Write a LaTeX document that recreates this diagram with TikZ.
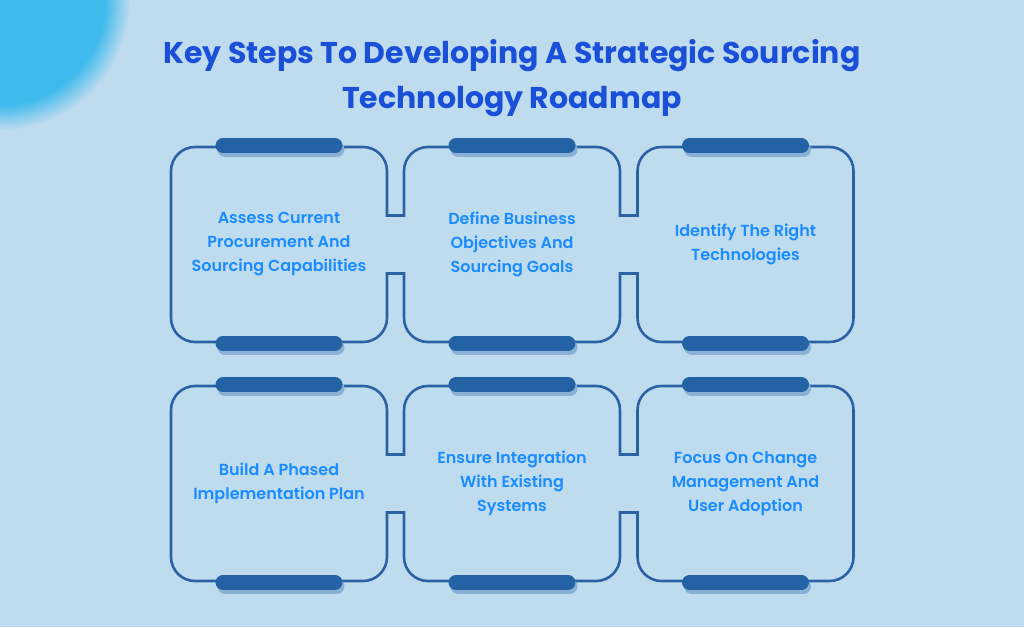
\documentclass[tikz,border=0pt]{standalone}
\usepackage{fontspec}
\setmainfont{Poppins}[BoldFont={* SemiBold}]
\newfontfamily\titlefont{Poppins Bold}
\usetikzlibrary{calc,fadings}
\definecolor{bgblue}{HTML}{BFDCEF}
\definecolor{lineblue}{HTML}{2A63A5}
\definecolor{barblue}{HTML}{2462A6}
\definecolor{textblue}{HTML}{1A8CFF}
\definecolor{titleblue}{HTML}{1A4FD8}
\tikzset{
  stepbox/.style={draw=lineblue, line width=2.6pt, rounded corners=24pt,
    minimum width=216pt, minimum height=195pt, align=center,
    text=textblue, font=\bfseries\fontsize{16}{24}\selectfont},
  tab/.style={line width=15pt, line cap=round, draw=barblue},
  tabshadow/.style={line width=15pt, line cap=round, draw=barblue!35!bgblue},
  link/.style={draw=lineblue, line width=2.6pt}
}
\begin{document}
\begin{tikzpicture}[x=1pt,y=-1pt]
    \useasboundingbox (0,0) rectangle (1024,627);
    \fill[bgblue] (0,0) rectangle (1024,627);
    \begin{scope}
        \clip (0,0) rectangle (1024,627);
        \fill[cyan!70!bgblue, path fading=circle with fuzzy edge 20 percent] (0,0) circle [radius=130];
    \end{scope}

    \node[text=titleblue, font=\titlefont\fontsize{30}{45}\selectfont, align=center] (title) at (512,78)
        {Key Steps To Developing A Strategic Sourcing\\Technology Roadmap};

    \node[stepbox] (b1) at (279,244.5) {Assess Current\\Procurement And\\Sourcing Capabilities};
    \node[stepbox] (b2) at (512,244.5) {Define Business\\Objectives And\\Sourcing Goals};
    \node[stepbox] (b3) at (745.5,244.5) {Identify The Right\\Technologies};
    \node[stepbox] (b4) at (279,483.5) {Build A Phased\\Implementation Plan};
    \node[stepbox] (b5) at (512,483.5) {Ensure Integration\\With Existing\\Systems};
    \node[stepbox] (b6) at (745.5,483.5) {Focus On Change\\Management And\\User Adoption};

    % tabs on top and bottom
    \foreach \b in {b1,b2,b3,b4,b5,b6}{
        \draw[tabshadow] ($(\b.north)+(-54,4)$) -- ($(\b.north)+(58,4)$);
        \draw[tab] ($(\b.north)+(-56,0)$) -- ($(\b.north)+(56,0)$);
        \draw[tabshadow] ($(\b.south)+(-54,4)$) -- ($(\b.south)+(58,4)$);
        \draw[tab] ($(\b.south)+(-56,0)$) -- ($(\b.south)+(56,0)$);
    }

    % links between neighbours
    \foreach \l/\r in {b1/b2,b2/b3,b4/b5,b5/b6}{
        \fill[bgblue] ($(\l.east)+(-3,-27.5)$) rectangle ($(\r.west)+(3,27.5)$);
        \draw[link] ($(\l.east)+(0,-29)$) -- ($(\r.west)+(0,-29)$);
        \draw[link] ($(\l.east)+(0,29)$) -- ($(\r.west)+(0,29)$);
    }
\end{tikzpicture}
\end{document}
